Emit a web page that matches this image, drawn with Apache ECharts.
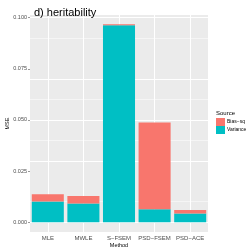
<!DOCTYPE html>
<html><head><meta charset="utf-8">
<script src="https://cdn.jsdelivr.net/npm/echarts@6/dist/echarts.min.js"></script>
<style>html,body{margin:0;padding:0;background:#fff}#c{width:249px;height:249px}</style>
</head><body><div id="c"></div>
<script>
const categories = ['MLE', 'MWLE', 'S\u2212FSEM', 'PSD\u2212FSEM', 'PSD\u2212ACE'];
const variance = [0.0101, 0.0091, 0.0963, 0.0063, 0.0042];
const biasSq = [0.0035, 0.0037, 0.0005, 0.0424, 0.0018];
const yTicks = [0, 0.025, 0.05, 0.075, 0.1];
const yMinor = [0.0125, 0.0375, 0.0625, 0.0875];
const yLabels = ['0.000', '0.025', '0.050', '0.075', '0.100'];

const chart = echarts.init(document.getElementById('c'), null, {renderer: 'canvas'});
const gridLines = [];
yTicks.forEach(v => gridLines.push({yAxis: v, lineStyle: {color: '#fff', width: 1, type: 'solid'}}));
yMinor.forEach(v => gridLines.push({yAxis: v, lineStyle: {color: '#fff', width: 0.5, type: 'solid'}}));
categories.forEach(c => gridLines.push({xAxis: c, lineStyle: {color: '#fff', width: 1, type: 'solid'}}));

chart.setOption({
  animation: false,
  title: {text: 'd) heritability', left: 29, top: 2,
    textStyle: {fontFamily: 'Liberation Sans', fontSize: 11, fontWeight: 'normal', color: '#000'}},
  grid: {left: 30, right: 41, top: 15, bottom: 17, show: true, backgroundColor: '#EBEBEB', borderWidth: 0,
    outerBoundsMode: 'none', containLabel: false},
  legend: {
    orient: 'vertical', left: 216, top: 118, width: 40, itemWidth: 9, itemHeight: 8, itemGap: 0, padding: 0,
    data: ['Bias\u2212sq', 'Variance'],
    textStyle: {fontFamily: 'Liberation Sans', fontSize: 5, color: '#000', padding: [0, 0, 0, -3]},
    icon: 'rect'
  },
  graphic: [{type: 'text', left: 216, top: 110, style: {text: 'Source', font: '6px Liberation Sans', fill: '#000'}}],
  xAxis: {
    type: 'category', data: categories, name: 'Method', nameLocation: 'middle', nameGap: 10,
    nameMoveOverlap: false,
    nameTextStyle: {fontFamily: 'Liberation Sans', fontSize: 5.5, color: '#000'},
    axisLine: {show: false},
    axisTick: {show: true, alignWithLabel: true, length: 2, lineStyle: {color: '#333', width: 0.5}},
    axisLabel: {fontFamily: 'Liberation Sans', fontSize: 6, color: '#4D4D4D', margin: 3, interval: 0},
    splitLine: {show: false}
  },
  yAxis: {
    type: 'value', min: -0.0048, max: 0.1013, name: 'MSE', nameLocation: 'middle', nameGap: 20,
    nameMoveOverlap: false,
    nameTextStyle: {fontFamily: 'Liberation Sans', fontSize: 5.5, color: '#000'},
    axisLine: {show: false},
    axisTick: {show: true, length: 2, lineStyle: {color: '#333', width: 0.5}, customValues: yTicks},
    axisLabel: {fontFamily: 'Liberation Sans', fontSize: 5.5, color: '#4D4D4D', margin: 3,
      customValues: yTicks, formatter: v => yLabels[yTicks.findIndex(t => Math.abs(t - v) < 1e-9)] || ''},
    splitLine: {show: false}
  },
  series: [
    {name: 'grid', type: 'line', data: [], z: 1, silent: true,
      markLine: {silent: true, symbol: 'none', label: {show: false}, data: gridLines, z: 1, animation: false}},
    {name: 'Variance', type: 'bar', stack: 's', data: variance, barWidth: '90%',
      itemStyle: {color: '#00BFC4'}, z: 10},
    {name: 'Bias\u2212sq', type: 'bar', stack: 's', data: biasSq, barWidth: '90%',
      itemStyle: {color: '#F8766D'}, z: 10}
  ]
});
</script></body></html>
